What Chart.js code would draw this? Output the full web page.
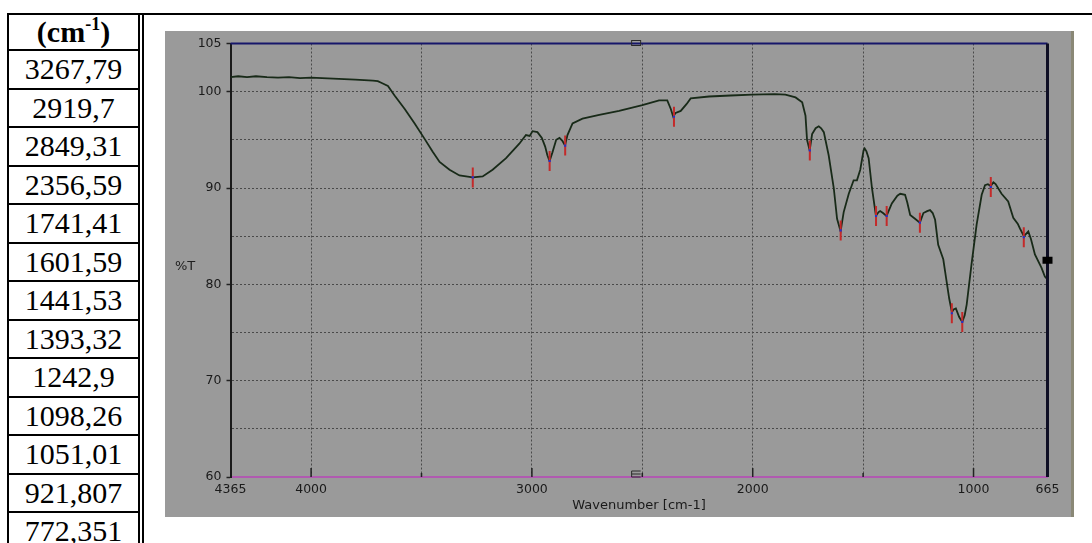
<!DOCTYPE html>
<html>
<head>
<meta charset="utf-8">
<script src="https://cdn.jsdelivr.net/npm/chart.js@4.4.1/dist/chart.umd.min.js"></script>
<style>
  html, body { margin: 0; padding: 0; background: #fff; width: 1092px; height: 543px; overflow: hidden; }
  .hline { position: absolute; left: 7px; top: 13px; width: 1085px; height: 2px; background: #000; }
  .vline { position: absolute; left: 142px; top: 13px; width: 2px; height: 530px; background: #000; }
  .cell {
    position: absolute; left: 7px; width: 133px; box-sizing: border-box;
    border: 2px solid #000; text-align: center; color: #000;
    font-family: "Liberation Serif", "Times New Roman", serif; font-size: 30px;
  }
  .cell.head { font-weight: bold; }
  .cell sup { font-size: 18px; line-height: 0; vertical-align: 12px; }
  #panel {
    position: absolute; left: 165px; top: 31px; width: 906px; height: 486px;
    background: #9a9a9a; border-right: 3px solid #8a8876;
  }
</style>
</head>
<body>
<div class="hline"></div>
<div class="vline"></div>
<div id="table"></div>
<div id="panel"><canvas id="ir" width="906" height="486"></canvas></div>

<script>
// peak list (table + red markers)
const peakLabels = ["3267,79", "2919,7", "2849,31", "2356,59", "1741,41", "1601,59", "1441,53",
                    "1393,32", "1242,9", "1098,26", "1051,01", "921,807", "772,351"];
const peakT = [91.1, 92.8, 94.4, 97.4, 93.9, 85.6, 87.1, 87.1, 86.4, 77.0, 76.1, 90.1, 84.9];

// spectrum
const wavenumber = [4365, 4330, 4290, 4250, 4200, 4150, 4100, 4050, 4000, 3950, 3900, 3850, 3800, 3760,
  3720, 3698, 3680, 3652, 3622, 3576, 3531, 3486, 3450, 3418, 3373, 3328, 3268, 3223, 3178, 3117,
  3057, 3027, 3010, 2997, 2975, 2955, 2940, 2930, 2920, 2907, 2890, 2875, 2862, 2850, 2839, 2816,
  2771, 2695, 2605, 2500, 2424, 2387, 2371, 2360, 2349, 2326, 2300, 2281, 2198, 2100, 2002, 1900,
  1852, 1806, 1776, 1761, 1754, 1742, 1731, 1715, 1701, 1690, 1678, 1656, 1633, 1618, 1602, 1588,
  1565, 1543, 1528, 1513, 1498, 1493, 1485, 1475, 1460, 1442, 1430, 1423, 1410, 1394, 1370, 1345,
  1332, 1310, 1300, 1287, 1265, 1243, 1227, 1210, 1197, 1185, 1174, 1160, 1137, 1122, 1110, 1098,
  1090, 1080, 1065, 1051, 1040, 1031, 1009, 986, 963, 948, 935, 922, 910, 900, 873, 843, 820, 800,
  790, 772, 760, 752, 740, 722, 692, 677, 665];
const transmittance = [101.5, 101.6, 101.5, 101.6, 101.5, 101.45, 101.5, 101.4, 101.45, 101.4, 101.35,
  101.3, 101.25, 101.2, 101.15, 101.1, 100.9, 100.6, 99.6, 98.2, 96.7, 95.1, 93.8, 92.7, 91.9, 91.3,
  91.1, 91.2, 91.9, 93.1, 94.6, 95.5, 95.4, 95.9, 95.8, 95.2, 94.3, 93.4, 92.8, 93.7, 95.0, 95.2,
  94.9, 94.4, 95.5, 96.7, 97.2, 97.6, 98.0, 98.6, 99.1, 99.1, 98.2, 97.4, 97.8, 98.0, 98.7, 99.3,
  99.5, 99.6, 99.7, 99.75, 99.7, 99.4, 98.9, 97.5, 95.0, 93.9, 95.6, 96.2, 96.4, 96.2, 95.8, 93.4,
  90.0, 86.8, 85.5, 87.5, 89.4, 90.8, 90.8, 91.9, 93.9, 94.1, 93.8, 93.1, 90.0, 87.1, 87.5, 87.6,
  87.4, 87.1, 88.4, 89.2, 89.4, 89.3, 88.5, 87.2, 86.8, 86.4, 87.4, 87.6, 87.7, 87.4, 86.7, 84.1,
  82.6, 80.3, 78.5, 77.1, 77.4, 77.5, 76.6, 76.1, 76.8, 77.9, 82.1, 86.2, 89.3, 90.3, 90.4, 90.2,
  90.6, 90.4, 89.4, 88.6, 86.9, 86.3, 85.8, 85.0, 85.3, 85.5, 84.7, 83.1, 81.7, 80.8, 80.5];

const xTicks = [4365, 4000, 3500, 3000, 2500, 2000, 1500, 1000, 665];
const xLabels = [4365, 4000, 3000, 2000, 1000, 665];
const yLabels = [60, 70, 80, 90, 100, 105];

// table on the left
const tbl = document.getElementById("table");
const head = document.createElement("div");
head.className = "cell head";
head.style.top = "13px";
head.style.height = "38px";
head.style.lineHeight = "34px";
head.innerHTML = "(cm<sup>-1</sup>)";
tbl.appendChild(head);
peakLabels.forEach((t, i) => {
  const d = document.createElement("div");
  d.className = "cell";
  d.style.top = (49 + 38.5 * i) + "px";
  d.style.height = "40.5px";
  d.style.lineHeight = "36px";
  d.textContent = t;
  tbl.appendChild(d);
});

const peakWn = peakLabels.map(s => parseFloat(s.replace(",", ".")));

const extras = {
  id: "extras",
  afterDraw(chart) {
    const { ctx, chartArea: a, scales: { x, y } } = chart;
    ctx.save();
    // small tick marks inside the bottom axis
    ctx.strokeStyle = "#222";
    ctx.lineWidth = 1.5;
    xTicks.slice(1, -1).forEach(v => {
      const px = x.getPixelForValue(v);
      const len = xLabels.includes(v) ? 9 : 4;
      ctx.beginPath();
      ctx.moveTo(px, a.bottom);
      ctx.lineTo(px, a.bottom - len);
      ctx.stroke();
    });
    // top frame line
    ctx.strokeStyle = "#16166a";
    ctx.lineWidth = 2;
    ctx.beginPath();
    ctx.moveTo(a.left, a.top);
    ctx.lineTo(a.right, a.top);
    ctx.stroke();
    // right cursor line
    ctx.strokeStyle = "#0e0e24";
    ctx.lineWidth = 3;
    ctx.beginPath();
    ctx.moveTo(a.right, a.top);
    ctx.lineTo(a.right, a.bottom);
    ctx.stroke();
    // cursor square on the right
    const sy = y.getPixelForValue(82.5);
    ctx.fillStyle = "#000";
    ctx.fillRect(a.right - 5, sy - 3.5, 10, 7);
    // handles at top and bottom
    const hx = x.getPixelForValue(2528);
    ctx.strokeStyle = "#2a2a2a";
    ctx.lineWidth = 1;
    ctx.strokeRect(hx - 4.5, a.top - 3, 9, 5);
    ctx.beginPath();
    ctx.moveTo(hx + 4.5, a.bottom - 6);
    ctx.lineTo(hx - 4.5, a.bottom - 6);
    ctx.lineTo(hx - 4.5, a.bottom);
    ctx.lineTo(hx + 4.5, a.bottom);
    ctx.moveTo(hx - 4.5, a.bottom - 3);
    ctx.lineTo(hx + 4.5, a.bottom - 3);
    ctx.stroke();
    // %T label
    ctx.fillStyle = "#1e1e1e";
    ctx.font = "13px 'DejaVu Sans'";
    ctx.textAlign = "left";
    ctx.textBaseline = "middle";
    ctx.fillText("%T", y.left + 10, y.getPixelForValue(81.8));
    ctx.restore();
  }
};

new Chart(document.getElementById("ir"), {
  type: "line",
  data: {
    datasets: [
      {
        label: "points",
        type: "scatter",
        data: peakWn.map((w, i) => ({ x: w, y: peakT[i] })),
        pointStyle: "rect",
        pointRadius: 1.5,
        backgroundColor: "#2233cc",
        borderWidth: 0,
        order: 0
      },
      {
        label: "peaks",
        type: "scatter",
        data: peakWn.map((w, i) => ({ x: w, y: peakT[i] })),
        pointStyle: "line",
        rotation: 90,
        pointRadius: 10,
        borderColor: "#c42a2a",
        borderWidth: 2,
        order: 1
      },
      {
        label: "%T",
        data: wavenumber.map((w, i) => ({ x: w, y: transmittance[i] })),
        borderColor: "#182a18",
        borderWidth: 1.8,
        pointRadius: 0,
        tension: 0,
        order: 2
      }
    ]
  },
  options: {
    responsive: false,
    animation: false,
    devicePixelRatio: 1,
    layout: { padding: { top: 10.5, right: 23.5, left: 0, bottom: 0 } },
    plugins: { legend: { display: false }, tooltip: { enabled: false } },
    scales: {
      x: {
        type: "linear",
        reverse: true,
        min: 665,
        max: 4365,
        afterBuildTicks: s => { s.ticks = xTicks.map(v => ({ value: v })); },
        afterFit: s => { s.height = 40; },
        ticks: {
          autoSkip: false,
          maxRotation: 0,
          padding: 5,
          color: "#1a1a1a",
          font: { family: "DejaVu Sans", size: 12.5 },
          callback: v => xLabels.includes(v) ? String(v) : ""
        },
        grid: {
          drawTicks: false,
          lineWidth: 1,
          color: c => (c.tick && (c.tick.value === 4365 || c.tick.value === 665)) ? "rgba(0,0,0,0)" : "#4a4a4a"
        },
        border: { color: "#b05ab0", width: 2, dash: [2, 2] },
        title: {
          display: true,
          text: "Wavenumber [cm-1]",
          color: "#1a1a1a",
          font: { family: "DejaVu Sans", size: 13 },
          padding: { top: 0, bottom: 4 }
        }
      },
      y: {
        min: 60,
        max: 105,
        afterBuildTicks: s => {
          const t = [];
          for (let v = 60; v <= 105; v += 5) t.push({ value: v });
          s.ticks = t;
        },
        afterFit: s => { s.width = 65.5; },
        ticks: {
          autoSkip: false,
          padding: 5,
          color: "#1a1a1a",
          font: { family: "DejaVu Sans", size: 12.5 },
          callback: v => yLabels.includes(v) ? String(v) : ""
        },
        grid: {
          drawTicks: true,
          tickLength: 4,
          tickWidth: 1.5,
          tickBorderDash: [],
          tickColor: c => (c.tick && yLabels.includes(c.tick.value)) ? "#222" : "rgba(0,0,0,0)",
          color: c => (c.tick && (c.tick.value === 60 || c.tick.value === 105)) ? "rgba(0,0,0,0)" : "#4a4a4a"
        },
        border: { color: "#1a1a1a", width: 2, dash: [2, 2] }
      }
    }
  },
  plugins: [extras]
});
</script>
</body>
</html>
